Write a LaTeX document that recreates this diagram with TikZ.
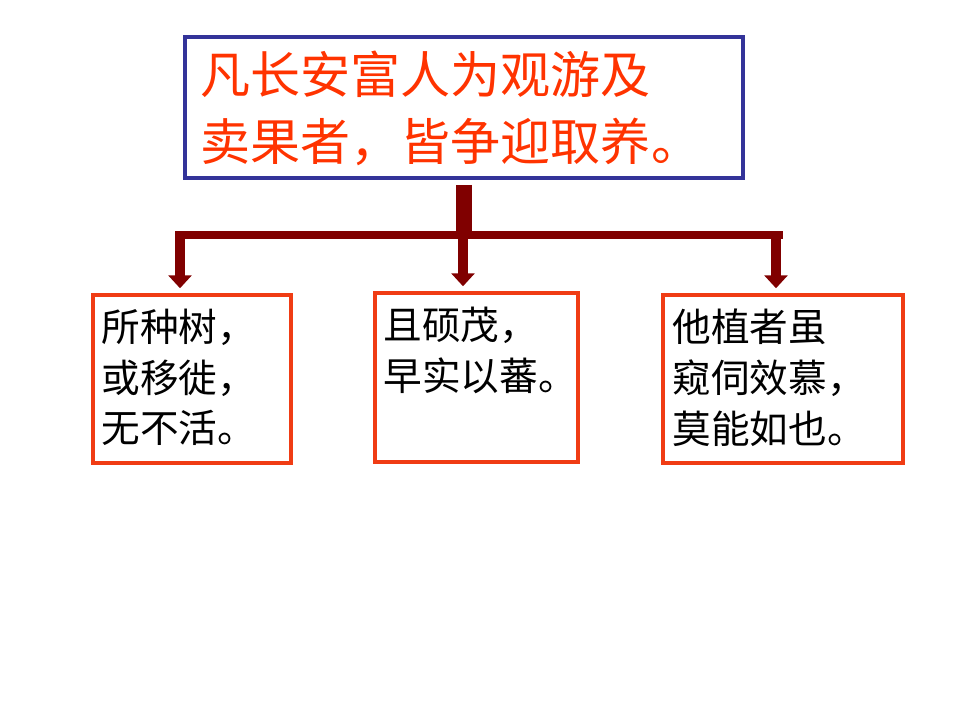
\documentclass[tikz,border=0pt]{standalone}
\usepackage{fontspec}
\newfontfamily\cjk{Noto Sans CJK SC}
\usetikzlibrary{arrows.meta}

\definecolor{frameblue}{RGB}{51,51,153}
\definecolor{framered}{RGB}{240,60,20}
\definecolor{titlered}{RGB}{255,51,0}
\definecolor{stemred}{RGB}{128,0,0}

\begin{document}
\begin{tikzpicture}[
    x=0.02cm, y=-0.02cm,
    box/.style={rectangle, draw=framered, line width=0.07cm, inner sep=0pt},
    boxtext/.style={anchor=north west, inner sep=0pt, align=left, font=\cjk\fontsize{22pt}{29pt}\selectfont},
    trunk/.style={draw=stemred, line width=0.32cm, shorten <=0.1cm},
    bar/.style={draw=stemred, line width=0.16cm},
    stem/.style={draw=stemred, line width=0.2cm, -{Triangle[width=0.46cm,length=0.26cm]}, shorten >=0.1cm}
]
    \useasboundingbox (0,0) rectangle (960,720);

    % Nodes
    \node[rectangle, draw=frameblue, line width=0.08cm, inner sep=0pt,
          minimum width=11.16cm, minimum height=2.82cm] (top) at (464,107.5) {};
    \node[anchor=north west, inner sep=0pt, align=left, text=titlered,
          font=\cjk\fontsize{28.5pt}{38pt}\selectfont]
        (toptext) at ([xshift=0.34cm,yshift=-0.32cm]top.north west)
        {凡长安富人为观游及\\卖果者，皆争迎取养。};

    \node[box, minimum width=3.96cm, minimum height=3.36cm] (boxL) at (192,379) {};
    \node[box, minimum width=4.06cm, minimum height=3.38cm] (boxM) at (476.5,377.5) {};
    \node[box, minimum width=4.8cm, minimum height=3.36cm] (boxR) at (783,379) {};

    \node[boxtext] (textL) at ([xshift=0.2cm,yshift=-0.3cm]boxL.north west) {所种树，\\或移徙，\\无不活。};
    \node[boxtext] (textM) at ([xshift=0.2cm,yshift=-0.3cm]boxM.north west) {且硕茂，\\早实以蕃。};
    \node[boxtext] (textR) at ([xshift=0.22cm,yshift=-0.3cm]boxR.north west) {他植者虽\\窥伺效慕，\\莫能如也。};

    % Edges
    \coordinate (split) at (464,235);
    \coordinate (barL) at (180,235);
    \coordinate (barM) at (463,235);
    \coordinate (barR) at (776,235);

    \draw[trunk] (top.south) -- ([yshift=-0.06cm]split);
    \draw[bar] ([xshift=-0.1cm]barL) -- ([xshift=0.14cm]barR);
    \draw[stem] ([yshift=0.08cm]barL) -- (barL |- boxL.north);
    \draw[stem] (barM) -- (barM |- boxM.north);
    \draw[stem] ([yshift=0.08cm]barR) -- (barR |- boxR.north);
\end{tikzpicture}
\end{document}
